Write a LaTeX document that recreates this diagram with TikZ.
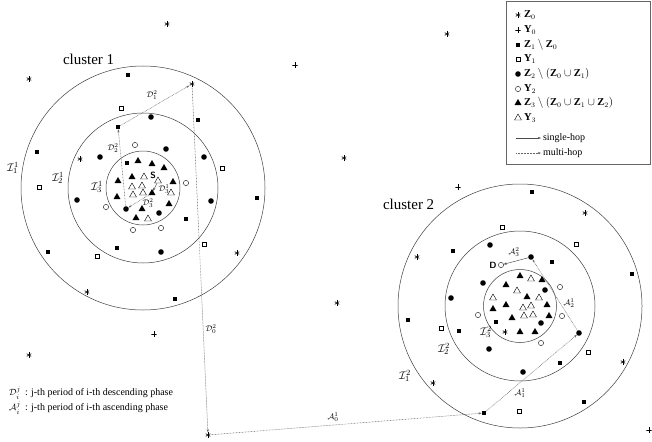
\documentclass[tikz,border=0pt]{standalone}
\usepackage{fontspec}
\setmainfont{Liberation Serif}
\usetikzlibrary{shapes.geometric,arrows.meta}
\begin{document}
\begin{tikzpicture}[x=1pt,y=-1pt,
  base/.style={inner sep=0pt, outer sep=0pt},
  fsq/.style={base, rectangle, fill=black, minimum size=4.6pt},
  osq/.style={base, rectangle, draw=black, line width=0.4pt, minimum size=4.4pt},
  fci/.style={base, circle, fill=black, minimum size=5.6pt},
  oci/.style={base, circle, draw=black, line width=0.4pt, minimum size=5.2pt},
  ftr/.style={base, regular polygon, regular polygon sides=3, fill=black, minimum size=8pt},
  otr/.style={base, regular polygon, regular polygon sides=3, draw=black, line width=0.4pt, minimum size=8pt},
  ast/.style={base, minimum size=5.4pt, path picture={
    \foreach \a/\b in {90/270,30/210,-30/150}{\draw[line width=0.6pt] ([shift={(\a:2.6pt)}]path picture bounding box.center) -- ([shift={(\b:2.6pt)}]path picture bounding box.center);}}},
  pls/.style={base, minimum size=5.4pt, path picture={
    \foreach \a/\b in {0/180,90/270}{\draw[line width=0.5pt] ([shift={(\a:2.6pt)}]path picture bounding box.center) -- ([shift={(\b:2.6pt)}]path picture bounding box.center);}}},
  ring/.style={draw=black!75, line width=0.5pt},
  mh/.style={draw=black!60, line width=0.5pt, dash pattern=on 0.7pt off 0.8pt, -{Stealth[length=3.2pt,width=2.2pt]}},
  sh/.style={draw=black!70, line width=0.45pt, -{Stealth[length=3.2pt,width=2.2pt]}},
  lab/.style={base, font=\fontsize{8.5}{10}\selectfont},
  ilab/.style={base, font=\fontsize{11}{13}\selectfont},
  lgd/.style={base, anchor=west, font=\fontsize{10.5}{12}\selectfont},
  clab/.style={base, anchor=base west, font=\fontsize{15}{18}\selectfont},
  sd/.style={base, font=\fontsize{9}{10}\selectfont\sffamily\bfseries}
]
\useasboundingbox (0,0) rectangle (652,441);

% rings
\coordinate (c1) at (143,188);
\coordinate (c2) at (520,306);
\draw[ring] (c1) circle[radius=122pt];
\draw[ring] (c1) circle[radius=75pt];
\draw[ring] (c1) circle[radius=37pt];
\draw[ring] (c2) circle[radius=122pt];
\draw[ring] (c2) circle[radius=75pt];
\draw[ring] (c2) circle[radius=36.5pt];

\node[clab] (cl1) at (63,65) {cluster 1};
\node[clab] (cl2) at (383,209) {cluster 2};

% ring labels
\node[ilab] (i11) at (13,168) {$\mathcal{I}_1^1$};
\node[ilab] (i21) at (58,178) {$\mathcal{I}_2^1$};
\node[ilab] (i31) at (97,187) {$\mathcal{I}_3^1$};
\node[ilab] (i12) at (405,376) {$\mathcal{I}_1^2$};
\node[ilab] (i22) at (444,349) {$\mathcal{I}_2^2$};
\node[ilab] (i32) at (486,332) {$\mathcal{I}_3^2$};

% Z0 (asterisks)
\foreach \x/\y [count=\i] in {167/24,447/34,29/79,80/159,237/253,87/292,344/158,337/303,417/257,585/213,505/332,433/383,623/362,29/355}
  \node[ast] (za\i) at (\x,\y) {};
\node[ast] (h1) at (192,84) {};
\node[ast] (h0) at (208,435) {};

% Y0 (plus)
\foreach \x/\y [count=\i] in {295/65,458/187,154/334,649/430}
  \node[pls] (ya\i) at (\x,\y) {};

% Z1 \ Z0 (filled squares)
\foreach \x/\y [count=\i] in {128/75,198/120,37/152,127/163,257/198,186/219,48/252,117/248,175/299,532/192,453/251,552/262,632/274,408/320,459/331,496/322,560/363,584/402}
  \node[fsq] (zb\i) at (\x,\y) {};
\node[fsq] (h2) at (118,127) {};
\node[fsq] (a1) at (484,413) {};

% Y1 (open squares)
\foreach \x/\y [count=\i] in {121/108,222/168,39/187,204/244,97/256,502/227,576/244,441/328,588/352,519/411}
  \node[osq] (yb\i) at (\x,\y) {};

% Z2 (filled circles)
\foreach \x/\y [count=\i] in {151/117,166/149,100/157,204/157,77/200,211/201,159/213,161/252,490/245,483/283,545/290,451/298,541/323,489/349,523/372}
  \node[fci] (zc\i) at (\x,\y) {};
\node[fci] (h3) at (126,209) {};
\node[fci] (a3) at (531,257) {};
\node[fci] (a2) at (579,333) {};

% Y2 (open circles)
\foreach \x/\y [count=\i] in {135/145,186/183,106/207,133/230,161/228,560/287,478/315,562/316,541/343}
  \node[oci] (yc\i) at (\x,\y) {};
\node[oci] (D) at (501,265) {};

% Z3 (filled triangles)
\foreach \x/\y [count=\i] in {138/161,152/164,164/168,132/177,118/181,173/182,117/197,169/204,142/209,136/218,520/276,542/280,506/285,527/297,493/309,506/305,547/305,512/318,549/316,520/332,535/332}
  \node[ftr] (zd\i) at (\x,\y) {};
\node[ftr] (h4) at (152,193) {};

% Y3 (open triangles)
\foreach \x/\y [count=\i] in {144/177,132/187,142/186,171/193,133/195,143/193,148/219,531/279,517/291,493/298,539/298,523/308,531/306,524/316,533/315}
  \node[otr] (yd\i) at (\x,\y) {};
\node[otr] (S) at (158,181) {};

\node[sd] (Slab) at (153,175) {S};
\node[sd] (Dlab) at (493,265) {D};

% paths
\draw[sh] (S) -- (h4);
\draw[mh] (h4) -- (h3);
\draw[mh] (h3) -- (h2);
\draw[mh] (h2) -- (h1);
\draw[mh] (h1) -- (h0);
\draw[mh] (h0) -- (a1);
\draw[mh] (a1) -- (a2);
\draw[mh] (a2) -- (a3);
\draw[sh] (a3) -- (D);

\node[lab] (ld31) at (164,189) {$\mathcal{D}_3^1$};
\node[lab] (ld32) at (148,203) {$\mathcal{D}_3^2$};
\node[lab] (ld22) at (113,148) {$\mathcal{D}_2^2$};
\node[lab] (ld12) at (152,95) {$\mathcal{D}_1^2$};
\node[lab] (ld02) at (211,329) {$\mathcal{D}_0^2$};
\node[lab] (la01) at (333,417) {$\mathcal{A}_0^1$};
\node[lab] (la11) at (520,393) {$\mathcal{A}_1^1$};
\node[lab] (la21) at (569,303) {$\mathcal{A}_2^1$};
\node[lab] (la32) at (514,252) {$\mathcal{A}_3^2$};

% legend box
\draw[draw=black!60, line width=0.5pt] (506,1.5) rectangle (650,164.5);
\node[ast] (ls1) at (518,15) {};   \node[lgd] (lt1) at (524,15) {$\mathbf{Z}_0$};
\node[pls] (ls2) at (518,30) {};   \node[lgd] (lt2) at (524,30) {$\mathbf{Y}_0$};
\node[fsq] (ls3) at (518,45) {};   \node[lgd] (lt3) at (524,45) {$\mathbf{Z}_1\setminus\mathbf{Z}_0$};
\node[osq] (ls4) at (518,59) {};   \node[lgd] (lt4) at (524,59) {$\mathbf{Y}_1$};
\node[fci] (ls5) at (518,74) {};   \node[lgd] (lt5) at (524,74) {$\mathbf{Z}_2\setminus(\mathbf{Z}_0\cup\mathbf{Z}_1)$};
\node[oci] (ls6) at (518,89) {};   \node[lgd] (lt6) at (524,89) {$\mathbf{Y}_2$};
\node[ftr] (ls7) at (518,103) {};  \node[lgd] (lt7) at (524,103) {$\mathbf{Z}_3\setminus(\mathbf{Z}_0\cup\mathbf{Z}_1\cup\mathbf{Z}_2)$};
\node[otr] (ls8) at (518,118) {};  \node[lgd] (lt8) at (524,118) {$\mathbf{Y}_3$};
\coordinate (lsa) at (516,138); \coordinate (lsb) at (541,138);
\draw[sh] (lsa) -- (lsb);
\node[lgd, font=\fontsize{10}{12}\selectfont] (lt9) at (543,138) {single-hop};
\coordinate (lma) at (516,153); \coordinate (lmb) at (541,153);
\draw[mh] (lma) -- (lmb);
\node[lgd, font=\fontsize{10}{12}\selectfont] (lt10) at (543,153) {multi-hop};

% bottom-left legend
\node[lab, font=\fontsize{9.5}{11}\selectfont] (bd) at (15,393) {$\mathcal{D}_i^j$};
\node[lgd, font=\fontsize{10}{12}\selectfont] (bdt) at (25,393) {: j-th period of i-th descending phase};
\node[lab, font=\fontsize{9.5}{11}\selectfont] (ba) at (15,408) {$\mathcal{A}_i^j$};
\node[lgd, font=\fontsize{10}{12}\selectfont] (bat) at (25,408) {: j-th period of i-th ascending phase};
\end{tikzpicture}
\end{document}
